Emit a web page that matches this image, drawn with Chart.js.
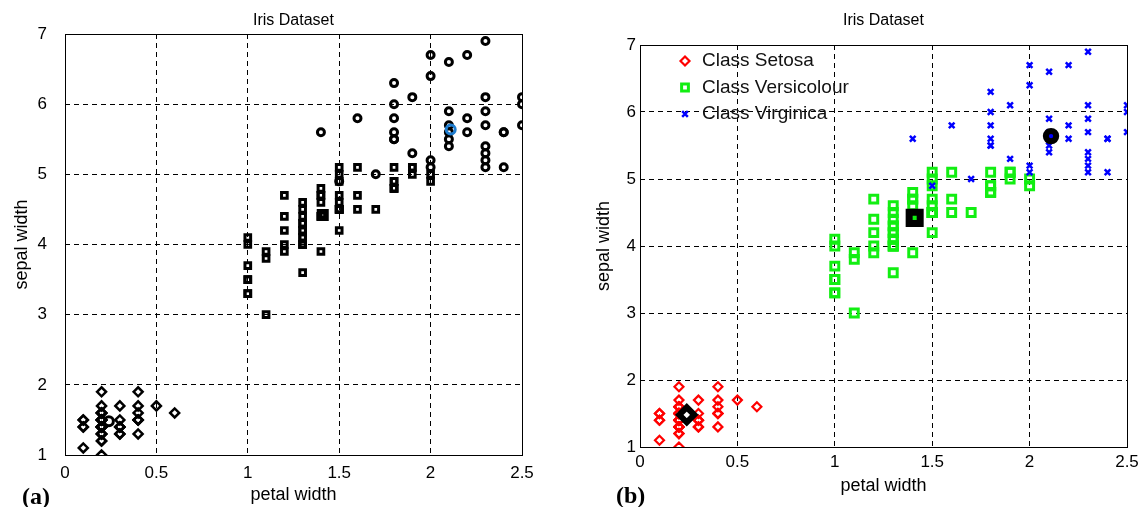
<!DOCTYPE html>
<html>
<head>
<meta charset="utf-8">
<title>Iris Dataset</title>
<script src="https://cdn.jsdelivr.net/npm/chart.js@4/dist/chart.umd.min.js"></script>
<style>
  html, body { margin: 0; padding: 0; background: #fff; }
  body { width: 1144px; height: 507px; position: relative; overflow: hidden; }
  canvas { position: absolute; top: 0; }
  #plotA { left: 0; }
  #plotB { left: 580px; }
  .tag { position: absolute; font: bold 24px 'Liberation Serif', 'Times New Roman', serif; line-height: 24px; color: #000; }
</style>
</head>
<body>
<canvas id="plotA" width="580" height="507"></canvas>
<canvas id="plotB" width="564" height="507"></canvas>
<div class="tag" style="left:22px;top:484px">(a)</div>
<div class="tag" style="left:616px;top:483px">(b)</div>
<script>
// petal width (x) and petal length (y) of every flower, grouped by cluster
const setosaW = [0.1, 0.1, 0.1, 0.1, 0.1,
  0.2, 0.2, 0.2, 0.2, 0.2, 0.2, 0.2, 0.2, 0.2, 0.2, 0.2, 0.2, 0.2, 0.2, 0.2,
  0.2, 0.2, 0.2, 0.2, 0.2, 0.2, 0.2, 0.2, 0.2, 0.2, 0.2, 0.2, 0.2, 0.2,
  0.3, 0.3, 0.3, 0.3, 0.3, 0.3, 0.3,
  0.4, 0.4, 0.4, 0.4, 0.4, 0.4, 0.4,
  0.5, 0.6];
const setosaL = [1.5, 1.4, 1.1, 1.5, 1.4,
  1.4, 1.4, 1.3, 1.5, 1.4, 1.5, 1.4, 1.5, 1.6, 1.2, 1.7, 1.0, 1.9, 1.6, 1.5,
  1.4, 1.6, 1.6, 1.4, 1.5, 1.2, 1.3, 1.3, 1.5, 1.3, 1.6, 1.4, 1.5, 1.4,
  1.4, 1.4, 1.7, 1.5, 1.3, 1.3, 1.4,
  1.7, 1.5, 1.3, 1.5, 1.6, 1.5, 1.9,
  1.7, 1.6];

const versiW = [1.0, 1.0, 1.0, 1.0, 1.0, 1.0, 1.0,
  1.1, 1.1, 1.1,
  1.2, 1.2, 1.2, 1.2, 1.2,
  1.3, 1.3, 1.3, 1.3, 1.3, 1.3, 1.3, 1.3, 1.3, 1.3, 1.3, 1.3, 1.3,
  1.4, 1.4, 1.4, 1.4, 1.4, 1.4, 1.4,
  1.5, 1.5, 1.5, 1.5, 1.5, 1.5, 1.5, 1.5, 1.5, 1.5, 1.5,
  1.6, 1.6, 1.6,
  1.7,
  1.8, 1.8, 1.8, 1.8, 1.8, 1.8,
  1.9, 1.9, 1.9,
  2.0, 2.0];
const versiL = [3.3, 3.5, 4.0, 4.1, 3.5, 3.7, 3.3,
  3.9, 3.8, 3.0,
  4.7, 3.9, 4.4, 4.0, 4.2,
  4.0, 4.5, 4.6, 3.6, 4.0, 4.3, 4.4, 4.1, 4.0, 4.2, 4.2, 4.3, 4.1,
  4.7, 3.9, 4.7, 4.4, 4.4, 4.8, 4.6,
  4.5, 4.9, 4.6, 4.2, 4.5, 4.5, 4.5, 4.5, 4.7, 5.0, 5.1,
  4.7, 5.1, 4.5,
  4.5,
  4.8, 4.9, 4.8, 4.9, 4.8, 5.1,
  5.1, 5.1, 5.0,
  5.0, 4.9];

const virgiW = [1.4, 1.5, 1.6, 1.7,
  1.8, 1.8, 1.8, 1.8, 1.8, 1.8,
  1.9, 1.9,
  2.0, 2.0, 2.0, 2.0,
  2.1, 2.1, 2.1, 2.1, 2.1, 2.1,
  2.2, 2.2, 2.2,
  2.3, 2.3, 2.3, 2.3, 2.3, 2.3, 2.3, 2.3,
  2.4, 2.4, 2.4,
  2.5, 2.5, 2.5];
const virgiL = [5.6, 4.9, 5.8, 5.0,
  5.6, 6.3, 5.8, 5.5, 6.0, 5.5,
  5.3, 6.1,
  6.7, 6.4, 5.1, 5.2,
  5.9, 6.6, 5.5, 5.7, 5.6, 5.4,
  5.8, 6.7, 5.6,
  5.3, 6.9, 5.7, 6.1, 5.1, 5.9, 5.2, 5.4,
  5.1, 5.6, 5.6,
  6.0, 6.1, 5.7];

// cluster centres: setosa, versicolour, virginica
const centerW = [0.24, 1.41, 2.11];
const centerL = [1.48, 4.42, 5.64];

const xTicks = [0, 0.5, 1, 1.5, 2, 2.5];
const yTicks = [1, 2, 3, 4, 5, 6, 7];

const family = "'Liberation Sans', Arial, Helvetica, sans-serif";

function points(xs, ys) {
  return xs.map((x, i) => ({ x: x, y: ys[i] }));
}

// solid box round the plot area
const frame = {
  id: 'frame',
  afterDatasetsDraw(chart, args, opts) {
    const a = chart.chartArea;
    const ctx = chart.ctx;
    ctx.save();
    ctx.strokeStyle = '#000';
    ctx.lineWidth = opts.width || 1;
    ctx.strokeRect(Math.round(a.left) + 0.5, Math.round(a.top) + 0.5,
      Math.round(a.right - a.left), Math.round(a.bottom - a.top));
    ctx.restore();
  }
};

// legend drawn inside the plot, top left, one row per dataset
const boxLegend = {
  id: 'boxLegend',
  afterDraw(chart, args, opts) {
    if (!opts.display) return;
    const ctx = chart.ctx;
    let row = 0;
    chart.data.datasets.forEach(ds => {
      if (!ds.inLegend) return;
      const y = opts.y + row * opts.rowHeight;
      ctx.save();
      ctx.strokeStyle = ds.pointBorderColor;
      ctx.fillStyle = ds.pointBackgroundColor;
      ctx.lineWidth = ds.pointBorderWidth;
      Chart.helpers.drawPoint(ctx, {
        pointStyle: ds.pointStyle,
        radius: ds.legendRadius || ds.pointRadius,
        borderWidth: ds.pointBorderWidth,
        rotation: 0
      }, opts.x, y);
      ctx.fillStyle = '#111';
      ctx.font = opts.font;
      ctx.textAlign = 'left';
      ctx.textBaseline = 'middle';
      ctx.fillText(ds.label, opts.textX, y);
      ctx.restore();
      row++;
    });
  }
};

function edgeless(lo, hi) {
  return c => (c.tick && (c.tick.value === lo || c.tick.value === hi)) ? 'rgba(0,0,0,0)' : '#000';
}

function panelOptions(p) {
  return {
    responsive: false,
    animation: false,
    events: [],
    layout: { padding: { left: 0, right: p.right, top: 0, bottom: 0 } },
    scales: {
      x: {
        type: 'linear',
        min: xTicks[0],
        max: xTicks[xTicks.length - 1],
        afterFit: s => { s.height = p.xHeight; },
        afterBuildTicks: s => { s.ticks = xTicks.map(v => ({ value: v })); },
        ticks: { padding: p.xTickPad, color: '#000', maxRotation: 0, autoSkip: false, callback: v => String(v), font: { family: family, size: 17 } },
        grid: { color: edgeless(xTicks[0], xTicks[xTicks.length - 1]), lineWidth: 1, drawTicks: false },
        border: { display: false, dash: [5, 4] },
        title: { display: true, text: 'petal width', color: '#000', font: { family: family, size: 18 }, padding: { top: 0, bottom: p.xTitlePad } }
      },
      y: {
        type: 'linear',
        min: yTicks[0],
        max: yTicks[yTicks.length - 1],
        afterFit: s => { s.width = p.yWidth; },
        afterBuildTicks: s => { s.ticks = yTicks.map(v => ({ value: v })); },
        ticks: { padding: p.yTickPad, color: '#000', autoSkip: false, callback: v => String(v), font: { family: family, size: 17 } },
        grid: { color: edgeless(yTicks[0], yTicks[yTicks.length - 1]), lineWidth: 1, drawTicks: false },
        border: { display: false, dash: [5, 4] },
        title: { display: true, text: 'sepal width', color: '#000', font: { family: family, size: 18 }, padding: { top: p.yTitlePad, bottom: 0 } }
      }
    },
    plugins: {
      legend: { display: false },
      tooltip: { enabled: false },
      title: {
        display: true,
        text: 'Iris Dataset',
        fullSize: false,
        color: '#000',
        font: { family: family, size: 16, weight: 'normal' },
        padding: { top: p.titleTop, bottom: p.titleBottom }
      },
      frame: { width: 1 },
      boxLegend: p.legend || { display: false }
    }
  };
}

const clear = 'rgba(0,0,0,0)';

// (a): black markers, one shape per cluster
new Chart(document.getElementById('plotA'), {
  type: 'scatter',
  data: {
    datasets: [
      {
        label: 'centres',
        data: points(centerW, centerL),
        order: 0,
        pointStyle: ['circle', 'rect', 'circle'],
        pointRadius: [4.5, 4.6, 4.5],
        pointBorderWidth: [3, 5.5, 3],
        pointBorderColor: ['#000', '#000', '#1f7dcf'],
        pointBackgroundColor: [clear, '#fff', clear]
      },
      {
        label: 'Class Virginica',
        data: points(virgiW, virgiL),
        order: 1,
        pointStyle: 'circle',
        pointRadius: 3.5,
        pointBorderWidth: 3,
        pointBorderColor: '#000',
        pointBackgroundColor: clear
      },
      {
        label: 'Class Versicolour',
        data: points(versiW, versiL),
        order: 2,
        pointStyle: 'rect',
        pointRadius: 4,
        pointBorderWidth: 3,
        pointBorderColor: '#000',
        pointBackgroundColor: clear
      },
      {
        label: 'Class Setosa',
        data: points(setosaW, setosaL),
        order: 3,
        pointStyle: 'rectRot',
        pointRadius: 4.5,
        pointBorderWidth: 2.5,
        pointBorderColor: '#000',
        pointBackgroundColor: clear
      }
    ]
  },
  options: panelOptions({
    right: 58, xHeight: 52, yWidth: 65,
    xTickPad: 8, yTickPad: 18, xTitlePad: 1.2, yTitlePad: 11.2,
    titleTop: 10.9, titleBottom: 3.9
  }),
  plugins: [frame, boxLegend]
});

// (b): coloured clusters with a legend
new Chart(document.getElementById('plotB'), {
  type: 'scatter',
  data: {
    datasets: [
      {
        label: 'Class Setosa',
        inLegend: true,
        data: points(setosaW, setosaL),
        order: 3,
        pointStyle: 'rectRot',
        pointRadius: 4.5,
        pointBorderWidth: 2.2,
        pointBorderColor: '#ff0000',
        pointBackgroundColor: clear
      },
      {
        label: 'Class Versicolour',
        inLegend: true,
        legendRadius: 4.8,
        data: points(versiW, versiL),
        order: 2,
        pointStyle: 'rect',
        pointRadius: 5.6,
        pointBorderWidth: 3,
        pointBorderColor: '#12ee12',
        pointBackgroundColor: clear
      },
      {
        label: 'Class Virginica',
        inLegend: true,
        data: points(virgiW, virgiL),
        order: 1,
        pointStyle: 'crossRot',
        pointRadius: 4,
        pointBorderWidth: 2.5,
        pointBorderColor: '#0000ff',
        pointBackgroundColor: clear
      },
      {
        label: 'centres',
        data: points(centerW, centerL),
        order: 0,
        pointStyle: ['rectRot', 'rect', 'circle'],
        pointRadius: [7.5, 7.8, 5.2],
        pointBorderWidth: [6, 7, 6],
        pointBorderColor: '#000',
        pointBackgroundColor: ['#fff', '#12ee12', '#0000ff']
      }
    ]
  },
  options: panelOptions({
    right: 17, xHeight: 60, yWidth: 60,
    xTickPad: 5, yTickPad: 4, xTitlePad: 10.2, yTitlePad: 13.2,
    titleTop: 11.4, titleBottom: 14.4,
    legend: { display: true, x: 105, y: 61, rowHeight: 26.5, textX: 122, font: '19px ' + family }
  }),
  plugins: [frame, boxLegend]
});
</script>
</body>
</html>
